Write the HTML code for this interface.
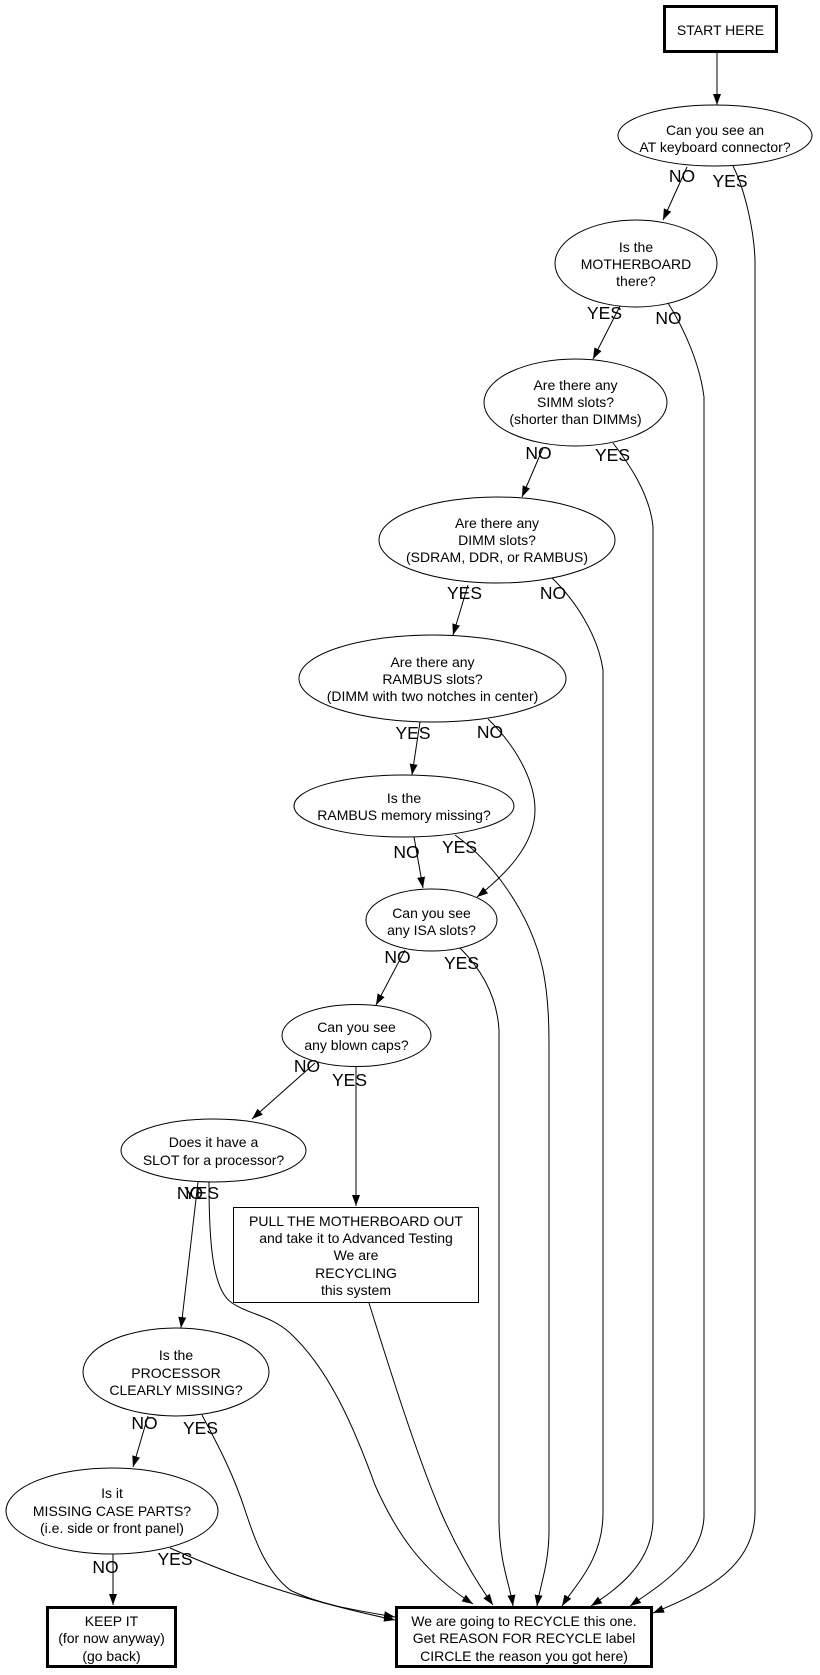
<!DOCTYPE html>
<html>
<head>
<meta charset="utf-8">
<style>
html,body{margin:0;padding:0;background:#fff;}
svg{display:block;}
text{font-family:"Liberation Sans",Arial,Helvetica,sans-serif;fill:#000;}
.n{font-size:14px;text-anchor:middle;}
.l{font-size:17.5px;text-anchor:middle;}
.e{fill:none;stroke:#000;stroke-width:1;}
</style>
</head>
<body>
<svg width="820" height="1675" viewBox="0 0 820 1675" xmlns="http://www.w3.org/2000/svg">
<defs>
<marker id="a" markerUnits="userSpaceOnUse" viewBox="0 0 11 8" refX="11" refY="4" markerWidth="11" markerHeight="8" orient="auto">
<path d="M0,0 L11,4 L0,8 z" fill="#000"/>
</marker>
</defs>
<rect width="820" height="1675" fill="#fff"/>

<!-- Nodes -->
<rect x="664.5" y="6.5" width="112" height="45" fill="none" stroke="#000" stroke-width="3"/>
<text class="n" x="720.5" y="35">START HERE</text>

<ellipse cx="715" cy="135.5" rx="97" ry="30.5" fill="none" stroke="#000"/>
<text class="n" x="715" y="135">Can you see an</text>
<text class="n" x="715" y="152">AT keyboard connector?</text>

<ellipse cx="636" cy="263.5" rx="81" ry="43.5" fill="none" stroke="#000"/>
<text class="n" x="636" y="252">Is the</text>
<text class="n" x="636" y="269">MOTHERBOARD</text>
<text class="n" x="636" y="286">there?</text>

<ellipse cx="575.5" cy="402.5" rx="91.5" ry="43.5" fill="none" stroke="#000"/>
<text class="n" x="575.5" y="390">Are there any</text>
<text class="n" x="575.5" y="407">SIMM slots?</text>
<text class="n" x="575.5" y="424">(shorter than DIMMs)</text>

<ellipse cx="497" cy="540" rx="118" ry="43" fill="none" stroke="#000"/>
<text class="n" x="497" y="528">Are there any</text>
<text class="n" x="497" y="545">DIMM slots?</text>
<text class="n" x="497" y="562">(SDRAM, DDR, or RAMBUS)</text>

<ellipse cx="432.5" cy="678.5" rx="133.5" ry="43.5" fill="none" stroke="#000"/>
<text class="n" x="432.5" y="667">Are there any</text>
<text class="n" x="432.5" y="684">RAMBUS slots?</text>
<text class="n" x="432.5" y="701">(DIMM with two notches in center)</text>

<ellipse cx="404" cy="806" rx="110" ry="31" fill="none" stroke="#000"/>
<text class="n" x="404" y="803">Is the</text>
<text class="n" x="404" y="820">RAMBUS memory missing?</text>

<ellipse cx="431.5" cy="920" rx="65.5" ry="31" fill="none" stroke="#000"/>
<text class="n" x="431.5" y="918">Can you see</text>
<text class="n" x="431.5" y="935">any ISA slots?</text>

<ellipse cx="356.5" cy="1035.5" rx="74.5" ry="31" fill="none" stroke="#000"/>
<text class="n" x="356.5" y="1032">Can you see</text>
<text class="n" x="356.5" y="1050">any blown caps?</text>

<ellipse cx="213.5" cy="1150.5" rx="92.5" ry="31.5" fill="none" stroke="#000"/>
<text class="n" x="213.5" y="1147">Does it have a</text>
<text class="n" x="213.5" y="1165">SLOT for a processor?</text>

<rect x="233.5" y="1207.5" width="245" height="95" fill="none" stroke="#000"/>
<text class="n" x="356" y="1226">PULL THE MOTHERBOARD OUT</text>
<text class="n" x="356" y="1243">and take it to Advanced Testing</text>
<text class="n" x="356" y="1260">We are</text>
<text class="n" x="356" y="1278">RECYCLING</text>
<text class="n" x="356" y="1295">this system</text>

<ellipse cx="176" cy="1372" rx="93" ry="44" fill="none" stroke="#000"/>
<text class="n" x="176" y="1360">Is the</text>
<text class="n" x="176" y="1378">PROCESSOR</text>
<text class="n" x="176" y="1395">CLEARLY MISSING?</text>

<ellipse cx="112" cy="1511" rx="106" ry="43" fill="none" stroke="#000"/>
<text class="n" x="112" y="1498">Is it</text>
<text class="n" x="112" y="1516">MISSING CASE PARTS?</text>
<text class="n" x="112" y="1533">(i.e. side or front panel)</text>

<rect x="47.5" y="1607.5" width="128" height="59" fill="none" stroke="#000" stroke-width="3"/>
<text class="n" x="111.5" y="1626">KEEP IT</text>
<text class="n" x="111.5" y="1643">(for now anyway)</text>
<text class="n" x="111.5" y="1661">(go back)</text>

<rect x="396.5" y="1607.5" width="255" height="59" fill="none" stroke="#000" stroke-width="3"/>
<text class="n" x="524" y="1626">We are going to RECYCLE this one.</text>
<text class="n" x="524" y="1643">Get REASON FOR RECYCLE label</text>
<text class="n" x="524" y="1661">CIRCLE the reason you got here)</text>

<!-- Edges -->
<path class="e" marker-end="url(#a)" d="M717,53 L717,105"/>

<path class="e" marker-end="url(#a)" d="M687,167 L663,220"/>
<path class="e" marker-end="url(#a)" d="M733,166 C745,190 754,230 755,260 L755,1513 C754,1565 710,1590 653,1613"/>

<path class="e" marker-end="url(#a)" d="M620,306 L593,359"/>
<path class="e" marker-end="url(#a)" d="M668,303 C685,330 700,365 704,397 L704,1517 C702,1560 660,1585 630,1606"/>

<path class="e" marker-end="url(#a)" d="M543,448 L522,497"/>
<path class="e" marker-end="url(#a)" d="M613,443 C630,465 650,495 653,527 L653,1520 C652,1565 615,1590 591,1606"/>

<path class="e" marker-end="url(#a)" d="M468,585 L453,635"/>
<path class="e" marker-end="url(#a)" d="M552,578 C575,600 598,635 603,670 L603,1513 C603,1560 575,1585 562,1606"/>

<path class="e" marker-end="url(#a)" d="M420,722 L412,775"/>
<path class="e" marker-end="url(#a)" d="M488,719 C515,745 535,780 535,810 C535,845 505,875 477,897"/>

<path class="e" marker-end="url(#a)" d="M414,837 L423,888"/>
<path class="e" marker-end="url(#a)" d="M455,835 C490,860 530,910 543,970 C549,1000 549,1030 549,1050 L549,1530 C549,1565 540,1585 537,1606"/>

<path class="e" marker-end="url(#a)" d="M405,950 L376,1005"/>
<path class="e" marker-end="url(#a)" d="M460,948 C480,968 497,995 499,1030 L499,1523 C500,1565 510,1585 513,1606"/>

<path class="e" marker-end="url(#a)" d="M315,1063 L252,1119"/>
<path class="e" marker-end="url(#a)" d="M356,1066 L356,1206"/>

<path class="e" marker-end="url(#a)" d="M198,1182 L181,1328"/>
<path class="e" marker-end="url(#a)" d="M209,1182 C209,1240 212,1290 232,1303 C250,1315 270,1315 290,1333 C330,1370 355,1430 375,1485 C395,1530 420,1570 473,1604"/>

<path class="e" marker-end="url(#a)" d="M369,1303 C390,1370 415,1450 440,1510 C455,1545 475,1580 493,1605"/>

<path class="e" marker-end="url(#a)" d="M148,1416 L133,1467"/>
<path class="e" marker-end="url(#a)" d="M202,1415 C215,1440 232,1470 245,1510 C255,1540 265,1570 290,1590 C320,1605 360,1611 395,1617"/>

<path class="e" marker-end="url(#a)" d="M113,1554 L113,1605"/>
<path class="e" marker-end="url(#a)" d="M170,1548 C230,1575 300,1600 395,1620"/>

<!-- Edge labels -->
<text class="l" x="682" y="182">NO</text>
<text class="l" x="730" y="187">YES</text>

<text class="l" x="604.5" y="319">YES</text>
<text class="l" x="668.5" y="324">NO</text>

<text class="l" x="538.5" y="459">NO</text>
<text class="l" x="612.5" y="461">YES</text>

<text class="l" x="464.5" y="599">YES</text>
<text class="l" x="553" y="599">NO</text>

<text class="l" x="413" y="739">YES</text>
<text class="l" x="490" y="738">NO</text>

<text class="l" x="406.5" y="858">NO</text>
<text class="l" x="459.5" y="853">YES</text>

<text class="l" x="397.5" y="963">NO</text>
<text class="l" x="461.5" y="969">YES</text>

<text class="l" x="307" y="1072">NO</text>
<text class="l" x="349.5" y="1086">YES</text>

<text class="l" x="190" y="1199">NO</text>
<text class="l" x="201.5" y="1199">YES</text>

<text class="l" x="144.5" y="1429">NO</text>
<text class="l" x="200.5" y="1434">YES</text>

<text class="l" x="105.5" y="1573">NO</text>
<text class="l" x="175" y="1565">YES</text>
</svg>
</body>
</html>
